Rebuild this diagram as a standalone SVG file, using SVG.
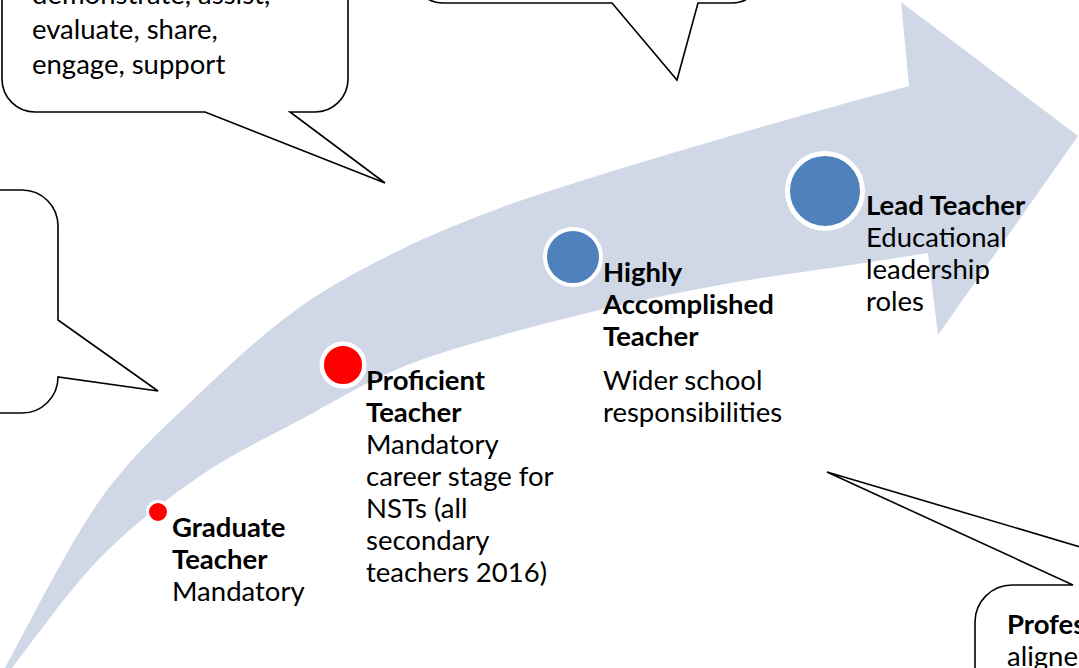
<svg xmlns="http://www.w3.org/2000/svg" width="1079" height="668" viewBox="0 0 1079 668">
  <style>
    text { font-family: Lato, "Open Sans", "Liberation Sans", sans-serif; font-size: 27.5px; fill: #000; }
    .b { font-weight: bold; }
    .callout { fill: #fff; stroke: #000; stroke-width: 1.6; stroke-linejoin: miter; }
    .stage { stroke: #fff; }
    .red { fill: #ff0000; }
    .blue { fill: #4f81bd; }
  </style>

  <!-- curved progression arrow -->
  <g id="progress-arrow">
    <path fill="#d0d8e8" d="M5,668
      C20.8,640 67.5,545.8 100,500
      C132.5,454.2 166.7,425.2 200,393
      C233.3,360.8 266.7,330.8 300,307
      C333.3,283.2 366.7,266.5 400,250
      C433.3,233.5 466.7,220.5 500,208
      C533.3,195.5 566.7,185.5 600,175
      C633.3,164.5 666.7,154.8 700,145
      C733.3,135.2 765.2,125.8 800,116
      C834.8,106.2 890.8,91 909,86
      L901,2 L1078,136 L938,335 L928,253
      C914,255.2 875.8,261.2 844,266
      C812.2,270.8 772.7,275.8 737,282
      C701.3,288.2 667.8,294.5 630,303
      C592.2,311.5 548.3,322.2 510,333
      C471.7,343.8 435,353.5 400,368
      C365,382.5 333.3,402 300,420
      C266.7,438 233.3,453 200,476
      C166.7,499 131.3,526 100,558
      C68.7,590 26.7,649.7 12,668 Z"/>
  </g>

  <!-- speech bubbles -->
  <g id="callout-actions">
    <path class="callout" d="M2,-100 L2,79 A33,33 0 0 0 35,112 L205,112 L385,183 L290,112 L315,112 A33,33 0 0 0 348,79 L348,-100 Z"/>
    <text x="32" y="4">demonstrate, assist,</text>
    <text x="32" y="39">evaluate, share,</text>
    <text x="32" y="74">engage, support</text>
  </g>

  <g id="callout-left">
    <path class="callout" d="M-50,190 L22,190 A36,36 0 0 1 58,226 L58,320 L158,391 L58,377 A36,36 0 0 1 22,413 L-50,413 Z"/>
  </g>

  <g id="callout-top">
    <path class="callout" d="M413,-100 L413,-27 A30,30 0 0 0 443,3 L612,3 L677,80 L698,3 L732,3 A30,30 0 0 0 762,-27 L762,-100 Z"/>
  </g>

  <g id="callout-professional">
    <path class="callout" d="M975,720 L975,622 A37,37 0 0 1 1012,585 L1073,585 L827,472 L1209,585 L1250,585 L1250,720 Z"/>
    <text class="b" x="1007" y="634">Profes</text>
    <text x="1007" y="666">aligne</text>
  </g>

  <!-- career stages -->
  <g id="stage-graduate">
    <circle class="stage red" cx="158" cy="512" r="10.5" stroke-width="3"/>
    <text class="b" x="172" y="537">Graduate</text>
    <text class="b" x="172" y="569">Teacher</text>
    <text x="172" y="601">Mandatory</text>
  </g>

  <g id="stage-proficient">
    <circle class="stage red" cx="343" cy="365" r="21.3" stroke-width="4.5"/>
    <text class="b" x="366" y="390">Proficient</text>
    <text class="b" x="366" y="422">Teacher</text>
    <text x="366" y="454">Mandatory</text>
    <text x="366" y="486">career stage for</text>
    <text x="366" y="518">NSTs (all</text>
    <text x="366" y="550">secondary</text>
    <text x="366" y="582">teachers 2016)</text>
  </g>

  <g id="stage-highly-accomplished">
    <circle class="stage blue" cx="573" cy="257" r="28" stroke-width="4"/>
    <text class="b" x="603" y="282">Highly</text>
    <text class="b" x="603" y="314">Accomplished</text>
    <text class="b" x="603" y="346">Teacher</text>
    <text x="603" y="390">Wider school</text>
    <text x="603" y="422">responsibilities</text>
  </g>

  <g id="stage-lead">
    <circle class="stage blue" cx="825" cy="191" r="37.5" stroke-width="5"/>
    <text class="b" x="866" y="215">Lead Teacher</text>
    <text x="866" y="247">Educational</text>
    <text x="866" y="279">leadership</text>
    <text x="866" y="311">roles</text>
  </g>
</svg>
